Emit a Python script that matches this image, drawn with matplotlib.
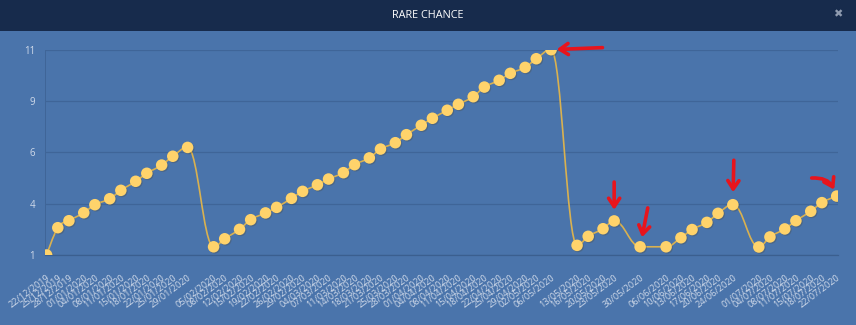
import matplotlib
matplotlib.use("Agg")
import matplotlib.pyplot as plt
import matplotlib.dates as mdates
from matplotlib.path import Path
from matplotlib.patches import PathPatch, Rectangle
import matplotlib.patheffects as pe
from datetime import datetime

# ---------------- data ----------------
dates = [
    "22/12/2019", "25/12/2019", "28/12/2019", "01/01/2020", "04/01/2020", "08/01/2020",
    "11/01/2020", "15/01/2020", "18/01/2020", "22/01/2020", "25/01/2020", "29/01/2020",
    "05/02/2020", "08/02/2020", "12/02/2020", "15/02/2020", "19/02/2020", "22/02/2020",
    "26/02/2020", "29/02/2020", "04/03/2020", "07/03/2020", "11/03/2020", "14/03/2020",
    "18/03/2020", "21/03/2020", "25/03/2020", "28/03/2020", "01/04/2020", "04/04/2020",
    "08/04/2020", "11/04/2020", "15/04/2020", "18/04/2020", "22/04/2020", "25/04/2020",
    "29/04/2020", "02/05/2020", "06/05/2020",
    "13/05/2020", "16/05/2020", "20/05/2020", "23/05/2020", "30/05/2020",
    "06/06/2020", "10/06/2020", "13/06/2020", "17/06/2020", "20/06/2020", "24/06/2020",
    "01/07/2020", "04/07/2020", "08/07/2020", "11/07/2020", "15/07/2020", "18/07/2020",
    "22/07/2020",
]
values = [
    1.0, 2.33, 2.67, 3.06, 3.45, 3.74, 4.15, 4.59, 4.98, 5.38, 5.81, 6.24,
    1.40, 1.79, 2.25, 2.72, 3.05, 3.32, 3.76, 4.10, 4.42, 4.70, 5.01, 5.40,
    5.73, 6.16, 6.47, 6.86, 7.32, 7.66, 8.05, 8.34, 8.71, 9.18, 9.51, 9.85,
    10.14, 10.56, 11.0,
    1.47, 1.91, 2.28, 2.66, 1.40,
    1.40, 1.84, 2.24, 2.59, 3.03, 3.45,
    1.39, 1.88, 2.27, 2.67, 3.13, 3.55, 3.87,
]
y_ticks = [1, 3.5, 6, 8.5, 11]
y_tick_labels = ["1", "4", "6", "9", "11"]
title = "RARE CHANCE"

# red arrows point at these dates
arrow_targets = ["06/05/2020", "23/05/2020", "30/05/2020", "24/06/2020", "22/07/2020"]

# ---------------- style ----------------
BG = "#4a74ab"
HEADER = "#172b4c"
GRID = "#3f6598"
LINE = "#d9b150"
MARK = "#ffd36b"
TICK = "#cfd9e9"
RED = "#e8141c"

x = mdates.date2num([datetime.strptime(d, "%d/%m/%Y") for d in dates])


def spline_path(xs, ys, smoothing=1.5):
    """Highcharts-like spline through the points (cubic Bezier)."""
    denom = smoothing + 1
    verts = [(xs[0], ys[0])]
    codes = [Path.MOVETO]
    right = [None] * len(xs)
    for i in range(1, len(xs)):
        px, py = xs[i], ys[i]
        lcx, lcy = px, py
        if i < len(xs) - 1:
            lx, ly = xs[i - 1], ys[i - 1]
            nx, ny = xs[i + 1], ys[i + 1]
            lcx = (smoothing * px + lx) / denom
            lcy = (smoothing * py + ly) / denom
            rcx = (smoothing * px + nx) / denom
            rcy = (smoothing * py + ny) / denom
            corr = 0.0
            if rcx != lcx:
                corr = (rcy - lcy) * (rcx - px) / (rcx - lcx) + py - rcy
            lcy += corr
            rcy += corr
            if lcy > ly and lcy > py:
                lcy = max(ly, py); rcy = 2 * py - lcy
            elif lcy < ly and lcy < py:
                lcy = min(ly, py); rcy = 2 * py - lcy
            if rcy > ny and rcy > py:
                rcy = max(ny, py); lcy = 2 * py - rcy
            elif rcy < ny and rcy < py:
                rcy = min(ny, py); lcy = 2 * py - rcy
            right[i] = (rcx, rcy)
        prev = right[i - 1] if right[i - 1] is not None else (xs[i - 1], ys[i - 1])
        verts += [prev, (lcx, lcy), (px, py)]
        codes += [Path.CURVE4] * 3
    return Path(verts, codes)


W, H = 856, 325
fig = plt.figure(figsize=(W / 100, H / 100), dpi=100)
fig.patch.set_facecolor(BG)

# header bar
fig.add_artist(Rectangle((0, 1 - 31 / H), 1, 31 / H, transform=fig.transFigure,
                         facecolor=HEADER, edgecolor="none", zorder=0))
fig.text(0.5, 1 - 16 / H, title, ha="center", va="center", color="white",
         fontsize=7.8, family=["Liberation Sans Narrow", "Open Sans", "DejaVu Sans"])
fig.text(838 / W, 1 - 14 / H, "✖", ha="center", va="center", color="#8f9bb0",
         fontsize=8, family=["DejaVu Sans"])

left, right_px, bottom, top = 45, 838, 70, 275.3
ax = fig.add_axes([left / W, bottom / H, (right_px - left) / W, (top - bottom) / H])
ax.set_facecolor("none")

ax.set_ylim(1, 11)
ax.set_xlim(x[0] - 0.45, x[-1] + 0.35)
ax.set_yticks(y_ticks)
ax.set_yticklabels(y_tick_labels)
ax.set_xticks(x)
ax.set_xticklabels(dates, rotation=37, ha="right", rotation_mode="anchor")

ax.yaxis.grid(True, color=GRID, lw=0.9)
ax.xaxis.grid(False)
ax.set_axisbelow(True)
for s in ["top", "right"]:
    ax.spines[s].set_visible(False)
ax.spines["left"].set_color(GRID)
ax.spines["left"].set_linewidth(0.7)
ax.spines["bottom"].set_color("#3b5f8f")
ax.spines["bottom"].set_linewidth(0.9)

ax.tick_params(axis="both", length=0, colors=TICK)
ax.tick_params(axis="y", pad=7, labelsize=7)
ax.tick_params(axis="x", pad=13, labelsize=6.6)
for lab in ax.get_xticklabels() + ax.get_yticklabels():
    lab.set_family(["Open Sans", "DejaVu Sans"])

ax.add_patch(PathPatch(spline_path(list(x), values), facecolor="none",
                       edgecolor=LINE, lw=1.2, zorder=2))
ax.plot(x, values, "o", ms=8.3, mfc=MARK, mec=MARK, mew=0, zorder=3,
        path_effects=[pe.SimplePatchShadow(offset=(0.8, -0.8), alpha=0.25),
                      pe.Normal()])

# red hand-drawn style arrows: (tail offset in points, gap at tip, curvature)
arrow_specs = [
    ((37, 1.5), 4, 0.0),
    ((0, 28), 8, 0.0),
    ((5.5, 28), 7, 0.0),
    ((0.7, 32), 9, 0.0),
    ((-18, 13), 5, -0.4),
]
for d, (off, gap, rad) in zip(arrow_targets, arrow_specs):
    i = dates.index(d)
    ax.annotate("", xy=(x[i], values[i]), xytext=off, textcoords="offset points",
                annotation_clip=False,
                arrowprops=dict(arrowstyle="->,head_length=0.6,head_width=0.4",
                                color=RED, lw=2.6, shrinkA=0, shrinkB=gap,
                                capstyle="round", joinstyle="round",
                                connectionstyle=f"arc3,rad={rad}"),
                zorder=5)

fig.savefig("out.png", dpi=100, facecolor=BG)
